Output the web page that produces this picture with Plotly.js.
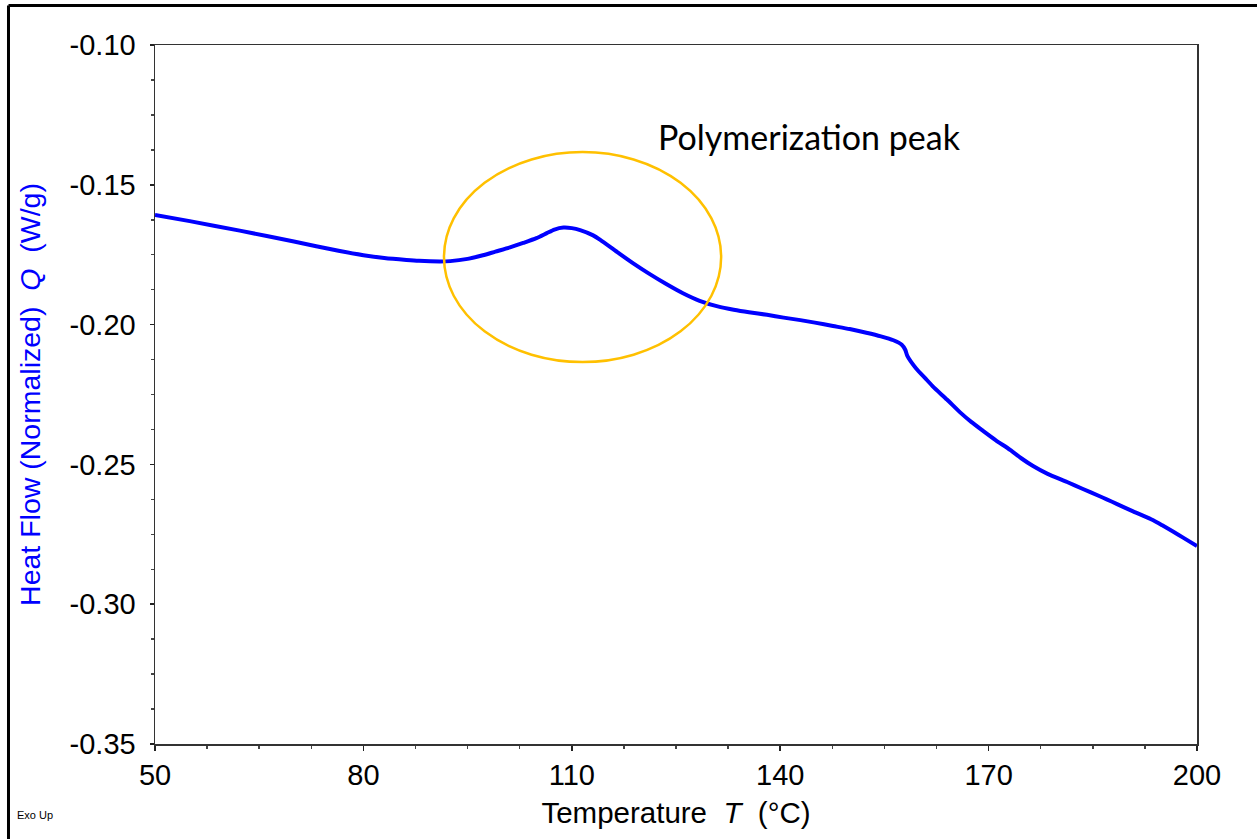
<!DOCTYPE html>
<html>
<head>
<meta charset="utf-8">
<script src="https://cdn.plot.ly/plotly-3.0.1.min.js"></script>
<style>
html,body{margin:0;padding:0;background:#fff;}
#chart{width:1257px;height:839px;}
</style>
</head>
<body>
<div id="chart"></div>
<script>
// Temperature (°C)
const temperature = [50, 55, 62.2, 70, 76.6, 80, 83, 86.2, 88, 91, 92.5, 95, 97.2, 99, 101.1, 103, 104.9, 106.4, 107.5, 108.8, 110, 111.2, 113, 114.1, 116.5, 118.9, 121, 123.6, 126, 128.4, 131, 133.3, 135.5, 138.1, 140.5, 142.9, 145, 147.6, 150, 152.4, 154.5, 156.3, 157.5, 158, 158.3, 159.6, 161, 162, 164, 165.9, 167.5, 169.2, 171, 173.1, 174.7, 176.4, 178.5, 181.3, 183.5, 186, 187, 188.5, 190.8, 193.7, 195, 196.6, 198, 200];
// Heat flow (W/g)
const heatFlow = [-0.1608, -0.1630, -0.1664, -0.1703, -0.1737, -0.1752, -0.1762, -0.1769, -0.1772, -0.1774, -0.1773, -0.1765, -0.1752, -0.1739, -0.1724, -0.1708, -0.1691, -0.1673, -0.1660, -0.1653, -0.1655, -0.1662, -0.1680, -0.1697, -0.1740, -0.1782, -0.1816, -0.1855, -0.1888, -0.1915, -0.1935, -0.1947, -0.1956, -0.1965, -0.1975, -0.1984, -0.1993, -0.2005, -0.2016, -0.2029, -0.2042, -0.2056, -0.2072, -0.2090, -0.2112, -0.2158, -0.2195, -0.2222, -0.2268, -0.2314, -0.2348, -0.2380, -0.2413, -0.2448, -0.2478, -0.2506, -0.2534, -0.2563, -0.2587, -0.2614, -0.2625, -0.2642, -0.2668, -0.2700, -0.2718, -0.2741, -0.2762, -0.2792];

const xTickVals = [50, 80, 110, 140, 170, 200];
const yTickVals = [-0.35, -0.30, -0.25, -0.20, -0.15, -0.10];
const yTickText = ['-0.35', '-0.30', '-0.25', '-0.20', '-0.15', '-0.10'];

const peakLabel = 'Polymerization peak';
const peakLabelPos = [144.2, -0.1329];
const peakEllipseX = [91.6, 131.5];
const peakEllipseY = [-0.2134, -0.1383];

const NB = '\u00A0';
const FONT = 'Liberation Sans, Arial, sans-serif';

const trace = {
  x: temperature,
  y: heatFlow,
  type: 'scatter',
  mode: 'lines',
  line: {color: '#0000FF', width: 4, shape: 'spline', smoothing: 0.6},
  hoverinfo: 'skip'
};

const layout = {
  width: 1257,
  height: 839,
  margin: {l: 155, r: 60, t: 45, b: 95, pad: 0},
  paper_bgcolor: '#ffffff',
  plot_bgcolor: '#ffffff',
  showlegend: false,
  font: {family: FONT, color: '#000', size: 29},
  xaxis: {
    range: [50, 200],
    tickvals: xTickVals,
    ticks: 'outside',
    ticklen: 5,
    tickwidth: 1.5,
    tickcolor: '#222',
    showgrid: false,
    zeroline: false,
    showline: true,
    linecolor: '#333',
    linewidth: 1.5,
    mirror: true,
    tickfont: {family: FONT, size: 29, color: '#000'},
    ticklabelstandoff: 0,
    minor: {dtick: 7.5, tick0: 50, ticks: 'outside', ticklen: 3, tickwidth: 1.5, tickcolor: '#444', showgrid: false},
    title: {text: 'Temperature' + NB + NB + '<i>T</i>' + NB + NB + '(°C)', font: {family: FONT, size: 29.5, color: '#000'}, standoff: 12}
  },
  yaxis: {
    range: [-0.35, -0.10],
    tickvals: yTickVals,
    ticktext: yTickText,
    ticks: 'outside',
    ticklen: 4,
    tickwidth: 1.5,
    tickcolor: '#222',
    showgrid: false,
    zeroline: false,
    showline: true,
    linecolor: '#333',
    linewidth: 1.5,
    mirror: true,
    tickfont: {family: FONT, size: 29, color: '#000'},
    ticklabelstandoff: 8,
    minor: {dtick: 0.0125, tick0: -0.35, ticks: 'outside', ticklen: 3, tickwidth: 1.5, tickcolor: '#444', showgrid: false},
    title: {text: 'Heat Flow (Normalized)' + NB + NB + '<i>Q</i>' + NB + NB + '(W/g)', font: {family: FONT, size: 28.5, color: '#0000FF'}, standoff: 20}
  },
  shapes: [
    {type: 'circle', xref: 'x', yref: 'y', x0: peakEllipseX[0], x1: peakEllipseX[1], y0: peakEllipseY[0], y1: peakEllipseY[1], line: {color: '#FFC000', width: 2.5}},
    {type: 'line', xref: 'paper', yref: 'paper', x0: -0.1406, x1: -0.1406, y0: -0.1445, y1: 1.0565, line: {color: '#000', width: 3}},
    {type: 'line', xref: 'paper', yref: 'paper', x0: -0.1406, x1: 1.0624, y0: 1.0565, y1: 1.0565, line: {color: '#000', width: 3}}
  ],
  annotations: [
    {text: peakLabel, x: peakLabelPos[0], y: peakLabelPos[1], xref: 'x', yref: 'y', showarrow: false, xanchor: 'center', yanchor: 'middle', font: {family: 'Lato, Carlito, sans-serif', size: 34, color: '#000'}},
    {text: 'Exo Up', x: -0.1344, y: -0.1016, xref: 'paper', yref: 'paper', showarrow: false, xanchor: 'left', yanchor: 'middle', font: {family: FONT, size: 11, color: '#000'}}
  ]
};

Plotly.newPlot('chart', [trace], layout, {staticPlot: true, displayModeBar: false});
</script>
</body>
</html>
